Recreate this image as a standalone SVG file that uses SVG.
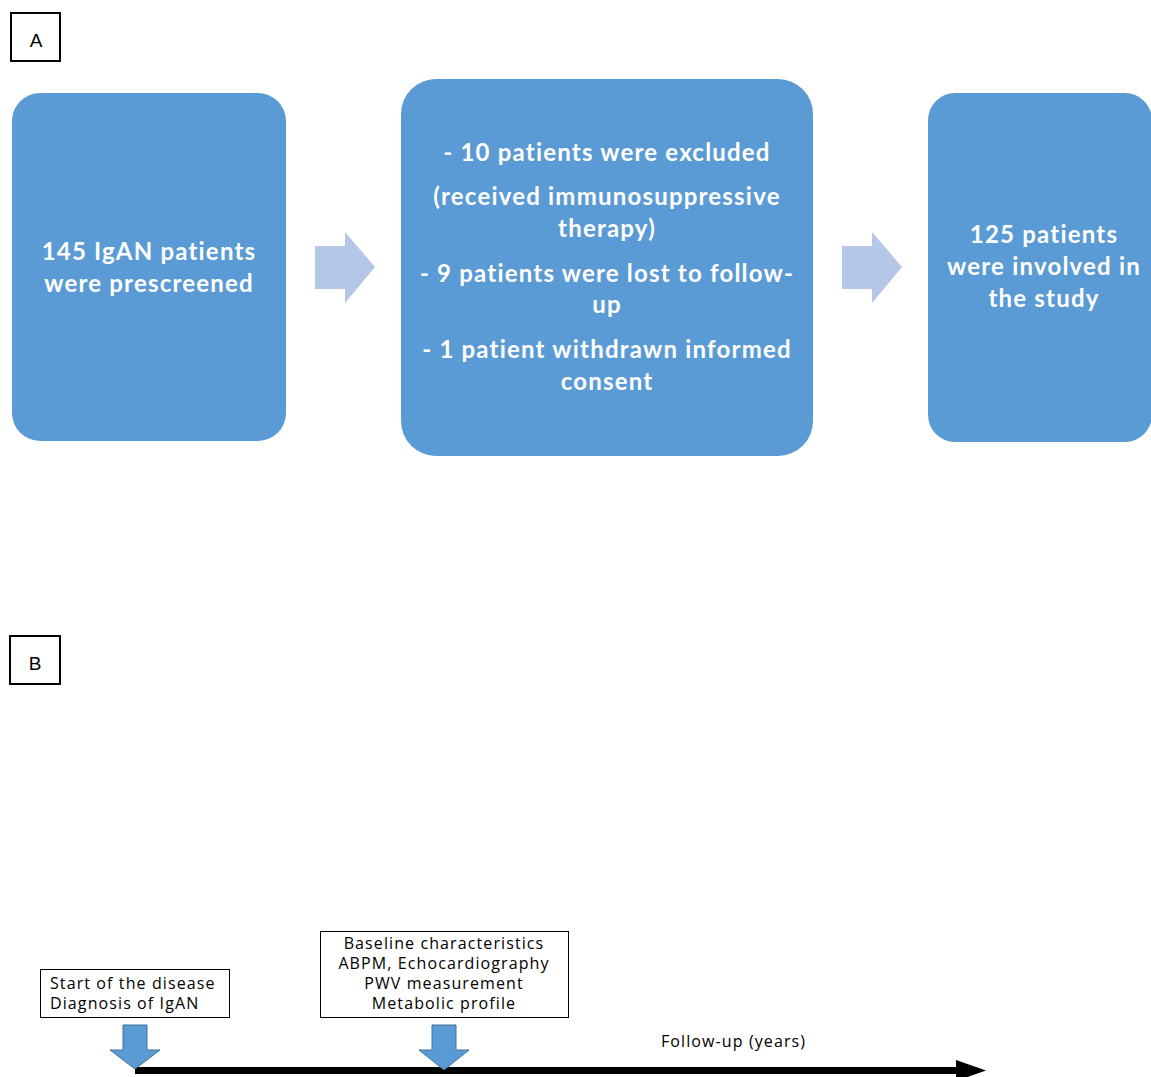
<svg xmlns="http://www.w3.org/2000/svg" width="1151" height="1077" viewBox="0 0 1151 1077">
<style>
.lbl{fill:#fff;stroke:#000;stroke-width:2}
.lbltxt{font-family:"Liberation Sans",Arial,sans-serif;font-size:19px;fill:#000;text-anchor:middle}
.box{fill:#5B9BD5}
.bt{font-family:Lato,"Open Sans",sans-serif;font-weight:bold;font-size:24px;letter-spacing:1.2px;fill:#fff;text-anchor:middle}
.harrow{fill:#B4C7E7}
.varrow{fill:#5B9BD5;stroke:#41719C;stroke-width:1}
.tbox{fill:#fff;stroke:#000;stroke-width:1}
.tt{font-family:"Open Sans",Lato,sans-serif;font-size:16px;letter-spacing:1.1px;fill:#000}
</style>
<rect width="1151" height="1077" fill="#fff"/>
<g id="labelA"><rect class="lbl" x="11" y="13" width="49" height="48"/><text class="lbltxt" x="36" y="47">A</text></g>
<g id="labelB"><rect class="lbl" x="10" y="636" width="50" height="48"/><text class="lbltxt" x="35" y="670">B</text></g>
<g id="node1"><rect class="box" x="12" y="93" width="274" height="348" rx="28"/>
<text class="bt" x="149" y="260">145 IgAN patients</text>
<text class="bt" x="149" y="292">were prescreened</text></g>
<g id="node2"><rect class="box" x="401" y="79" width="412" height="377" rx="35"/>
<text class="bt" x="607" y="161">-  10 patients were excluded</text>
<text class="bt" x="607" y="205">(received immunosuppressive</text>
<text class="bt" x="607" y="237">therapy)</text>
<text class="bt" x="607" y="282">- 9 patients were lost to follow-</text>
<text class="bt" x="607" y="313">up</text>
<text class="bt" x="607" y="358">- 1 patient withdrawn informed</text>
<text class="bt" x="607" y="390">consent</text></g>
<g id="node3"><rect class="box" x="928" y="93" width="224" height="349" rx="27"/>
<text class="bt" x="1044" y="243">125 patients</text>
<text class="bt" x="1044" y="275">were involved in</text>
<text class="bt" x="1044" y="307">the study</text></g>
<g id="node4"><rect class="tbox" x="40.5" y="969.5" width="189" height="48"/>
<text class="tt" x="50" y="989">Start of the disease</text>
<text class="tt" x="50" y="1009">Diagnosis of IgAN</text></g>
<g id="node5"><rect class="tbox" x="320.5" y="931.5" width="248" height="86"/>
<text class="tt" x="444" y="949" text-anchor="middle">Baseline characteristics</text>
<text class="tt" x="444" y="969" text-anchor="middle">ABPM, Echocardiography</text>
<text class="tt" x="444" y="989" text-anchor="middle">PWV measurement</text>
<text class="tt" x="444" y="1009" text-anchor="middle">Metabolic profile</text></g>
<g id="connectors">
<polygon class="harrow" points="315,246 345,246 345,232 375,267 345,303 345,289 315,289"/>
<polygon class="harrow" points="842,246 872,246 872,232 902,267 872,303 872,289 842,289"/>
<rect x="135" y="1067" width="823" height="7" fill="#000"/>
<polygon points="956,1060 986,1070.5 956,1081" fill="#000"/>
<polygon class="varrow" points="123,1025 147,1025 147,1050 160,1050 135,1069 110,1050 123,1050"/>
<polygon class="varrow" points="432,1025 456,1025 456,1050 469,1050 444,1070 419,1050 432,1050"/>
<text class="tt" x="661" y="1047">Follow-up (years)</text>
</g>
</svg>
